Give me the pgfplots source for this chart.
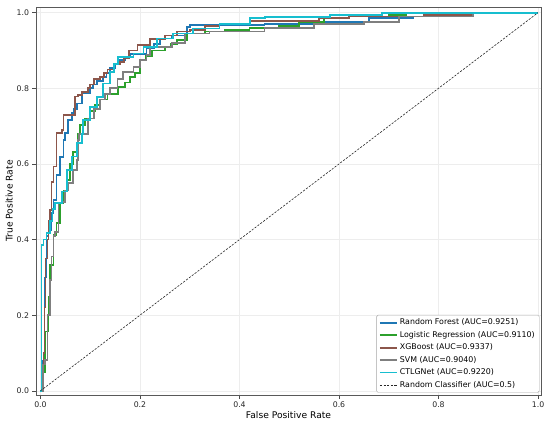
\documentclass[border=0pt]{standalone}
\usepackage{fontspec}
\setmainfont{DejaVu Sans}
\usepackage{pgfplots}
\pgfplotsset{compat=1.18}
\definecolor{tabblue}{HTML}{1F77B4}
\definecolor{tabgreen}{HTML}{2CA02C}
\definecolor{tabbrown}{HTML}{8C564B}
\definecolor{tabgray}{HTML}{7F7F7F}
\definecolor{tabcyan}{HTML}{17BECF}
\begin{document}
\begin{tikzpicture}
\begin{axis}[
  scale only axis,
  width=505bp, height=388bp,
  at={(0,0)}, anchor=south west,
  xmin=-0.009, xmax=1.006, ymin=-0.011, ymax=1.015,
  xtick={0,0.2,0.4,0.6,0.8,1.0},
  ytick={0,0.2,0.4,0.6,0.8,1.0},
  xticklabel style={/pgf/number format/.cd,fixed,fixed zerofill,precision=1},
  yticklabel style={/pgf/number format/.cd,fixed,fixed zerofill,precision=1},
  /pgf/number format/assume math mode=true,
  ticklabel style={font=\fontsize{7.8}{9}\selectfont, text=black!85},
  tick align=outside,
  xtick pos=bottom, ytick pos=left,
  major tick length=3.5bp,
  tick style={black!70, line width=0.6pt},
  axis line style={black!65, line width=0.8pt},
  grid=major,
  major grid style={black!7, line width=0.5pt},
  xlabel={False Positive Rate},
  ylabel={True Positive Rate},
  label style={font=\fontsize{9.2}{11}\selectfont},
  xlabel style={yshift=3bp},
  ylabel style={yshift=-3bp},
  legend cell align=left,
  legend style={at={(0.997,0.006)}, anchor=south east, font=\fontsize{7.9}{9.5}\selectfont,
    draw=black!35, rounded corners=1.5pt, fill=white, inner xsep=2.5pt, inner ysep=1.8pt,
    row sep=1.0pt},
  legend image code/.code={\draw[line width=1.8pt, #1] (0cm,0cm) -- (0.6cm,0cm);},
]
% Random Forest
\addplot[color=tabblue, line width=1.7pt, const plot mark left] coordinates {
(0,0) (0.003,0.08) (0.006,0.1) (0.008,0.3) (0.012,0.41) (0.016,0.425) (0.022,0.47) (0.026,0.505)
(0.032,0.571) (0.039,0.619) (0.046,0.663) (0.049,0.681) (0.056,0.716) (0.063,0.734) (0.068,0.745)
(0.073,0.76) (0.083,0.787) (0.1,0.80) (0.106,0.81) (0.113,0.82) (0.126,0.83) (0.133,0.84) (0.14,0.853)
(0.15,0.864) (0.16,0.874) (0.17,0.882) (0.18,0.89) (0.213,0.905) (0.228,0.918) (0.24,0.932)
(0.265,0.94) (0.294,0.962) (0.30,0.967) (0.45,0.97) (0.55,0.975) (0.66,0.985) (0.75,0.99) (0.85,1.0) (1.0,1.0)};
\addlegendentry{Random Forest (AUC=0.9251)}
% Logistic Regression
\addplot[color=tabgreen, line width=1.7pt, const plot mark left] coordinates {
(0,0) (0.005,0.05) (0.009,0.157) (0.016,0.249) (0.019,0.333) (0.026,0.412) (0.032,0.443) (0.039,0.496)
(0.046,0.53) (0.053,0.557) (0.059,0.6) (0.066,0.632) (0.073,0.65) (0.076,0.68) (0.079,0.703) (0.09,0.72)
(0.1,0.74) (0.11,0.755) (0.12,0.77) (0.135,0.785) (0.156,0.804) (0.17,0.815) (0.18,0.83) (0.19,0.84)
(0.2,0.875) (0.212,0.885) (0.224,0.9) (0.25,0.91) (0.262,0.918) (0.274,0.927) (0.294,0.945)
(0.33,0.95) (0.37,0.955) (0.42,0.96) (0.48,0.965) (0.52,0.975) (0.57,0.985) (0.62,0.99) (0.70,0.994) (0.735,1.0) (1.0,1.0)};
\addlegendentry{Logistic Regression (AUC=0.9110)}
% XGBoost
\addplot[color=tabbrown, line width=1.7pt, const plot mark left] coordinates {
(0,0) (0.004,0.02) (0.006,0.1) (0.008,0.22) (0.010,0.35) (0.014,0.40) (0.016,0.45) (0.019,0.478)
(0.022,0.553) (0.026,0.593) (0.032,0.681) (0.043,0.69) (0.046,0.729) (0.069,0.778) (0.075,0.783)
(0.083,0.79) (0.095,0.80) (0.100,0.81) (0.108,0.825) (0.120,0.83) (0.128,0.84) (0.135,0.85)
(0.148,0.865) (0.160,0.87) (0.168,0.88) (0.178,0.90) (0.195,0.915) (0.220,0.93) (0.250,0.94)
(0.275,0.95) (0.300,0.955) (0.330,0.965) (0.36,0.97) (0.420,0.978) (0.560,0.985) (0.620,0.99) (0.770,0.994) (0.870,1.0) (1.0,1.0)};
\addlegendentry{XGBoost (AUC=0.9337)}
% SVM
\addplot[color=tabgray, line width=1.7pt, const plot mark left] coordinates {
(0,0) (0.005,0.07) (0.009,0.082) (0.014,0.2) (0.019,0.293) (0.022,0.355) (0.026,0.41) (0.029,0.42)
(0.036,0.496) (0.043,0.50) (0.049,0.53) (0.056,0.549) (0.066,0.584) (0.073,0.61) (0.076,0.663) (0.078,0.68)
(0.096,0.72) (0.108,0.745) (0.12,0.77) (0.13,0.785) (0.14,0.80) (0.155,0.825) (0.166,0.844) (0.187,0.857)
(0.2,0.875) (0.213,0.888) (0.22,0.91) (0.265,0.92) (0.29,0.945) (0.34,0.95) (0.45,0.96) (0.55,0.97)
(0.65,0.975) (0.72,0.99) (0.87,1.0) (1.0,1.0)};
\addlegendentry{SVM (AUC=0.9040)}
% CTLGNet
\addplot[color=tabcyan, line width=1.7pt, const plot mark left] coordinates {
(0,0) (0.002,0.385) (0.006,0.40) (0.012,0.417) (0.019,0.45) (0.024,0.48) (0.029,0.497) (0.043,0.527)
(0.053,0.584) (0.063,0.62) (0.073,0.655) (0.083,0.68) (0.086,0.716) (0.1,0.751) (0.113,0.777)
(0.126,0.813) (0.14,0.844) (0.148,0.865) (0.156,0.883) (0.187,0.892) (0.207,0.91) (0.234,0.932)
(0.267,0.945) (0.307,0.958) (0.36,0.97) (0.421,0.985) (0.451,0.989) (0.582,0.993) (0.686,1.0) (1.0,1.0)};
\addlegendentry{CTLGNet (AUC=0.9220)}
% Random classifier
\addplot[black!85, line width=0.6pt, dash pattern=on 2.2pt off 1.4pt,
  legend image code/.code={\draw[black!85, line width=0.7pt, dash pattern=on 2.2pt off 1.4pt] (0cm,0cm) -- (0.6cm,0cm);}]
  coordinates {(0,0) (1,1)};
\addlegendentry{Random Classifier (AUC=0.5)}
\end{axis}
\pgfresetboundingbox
\path[use as bounding box] (-36bp,-34bp) rectangle (514bp,395bp);
\end{tikzpicture}
\end{document}
